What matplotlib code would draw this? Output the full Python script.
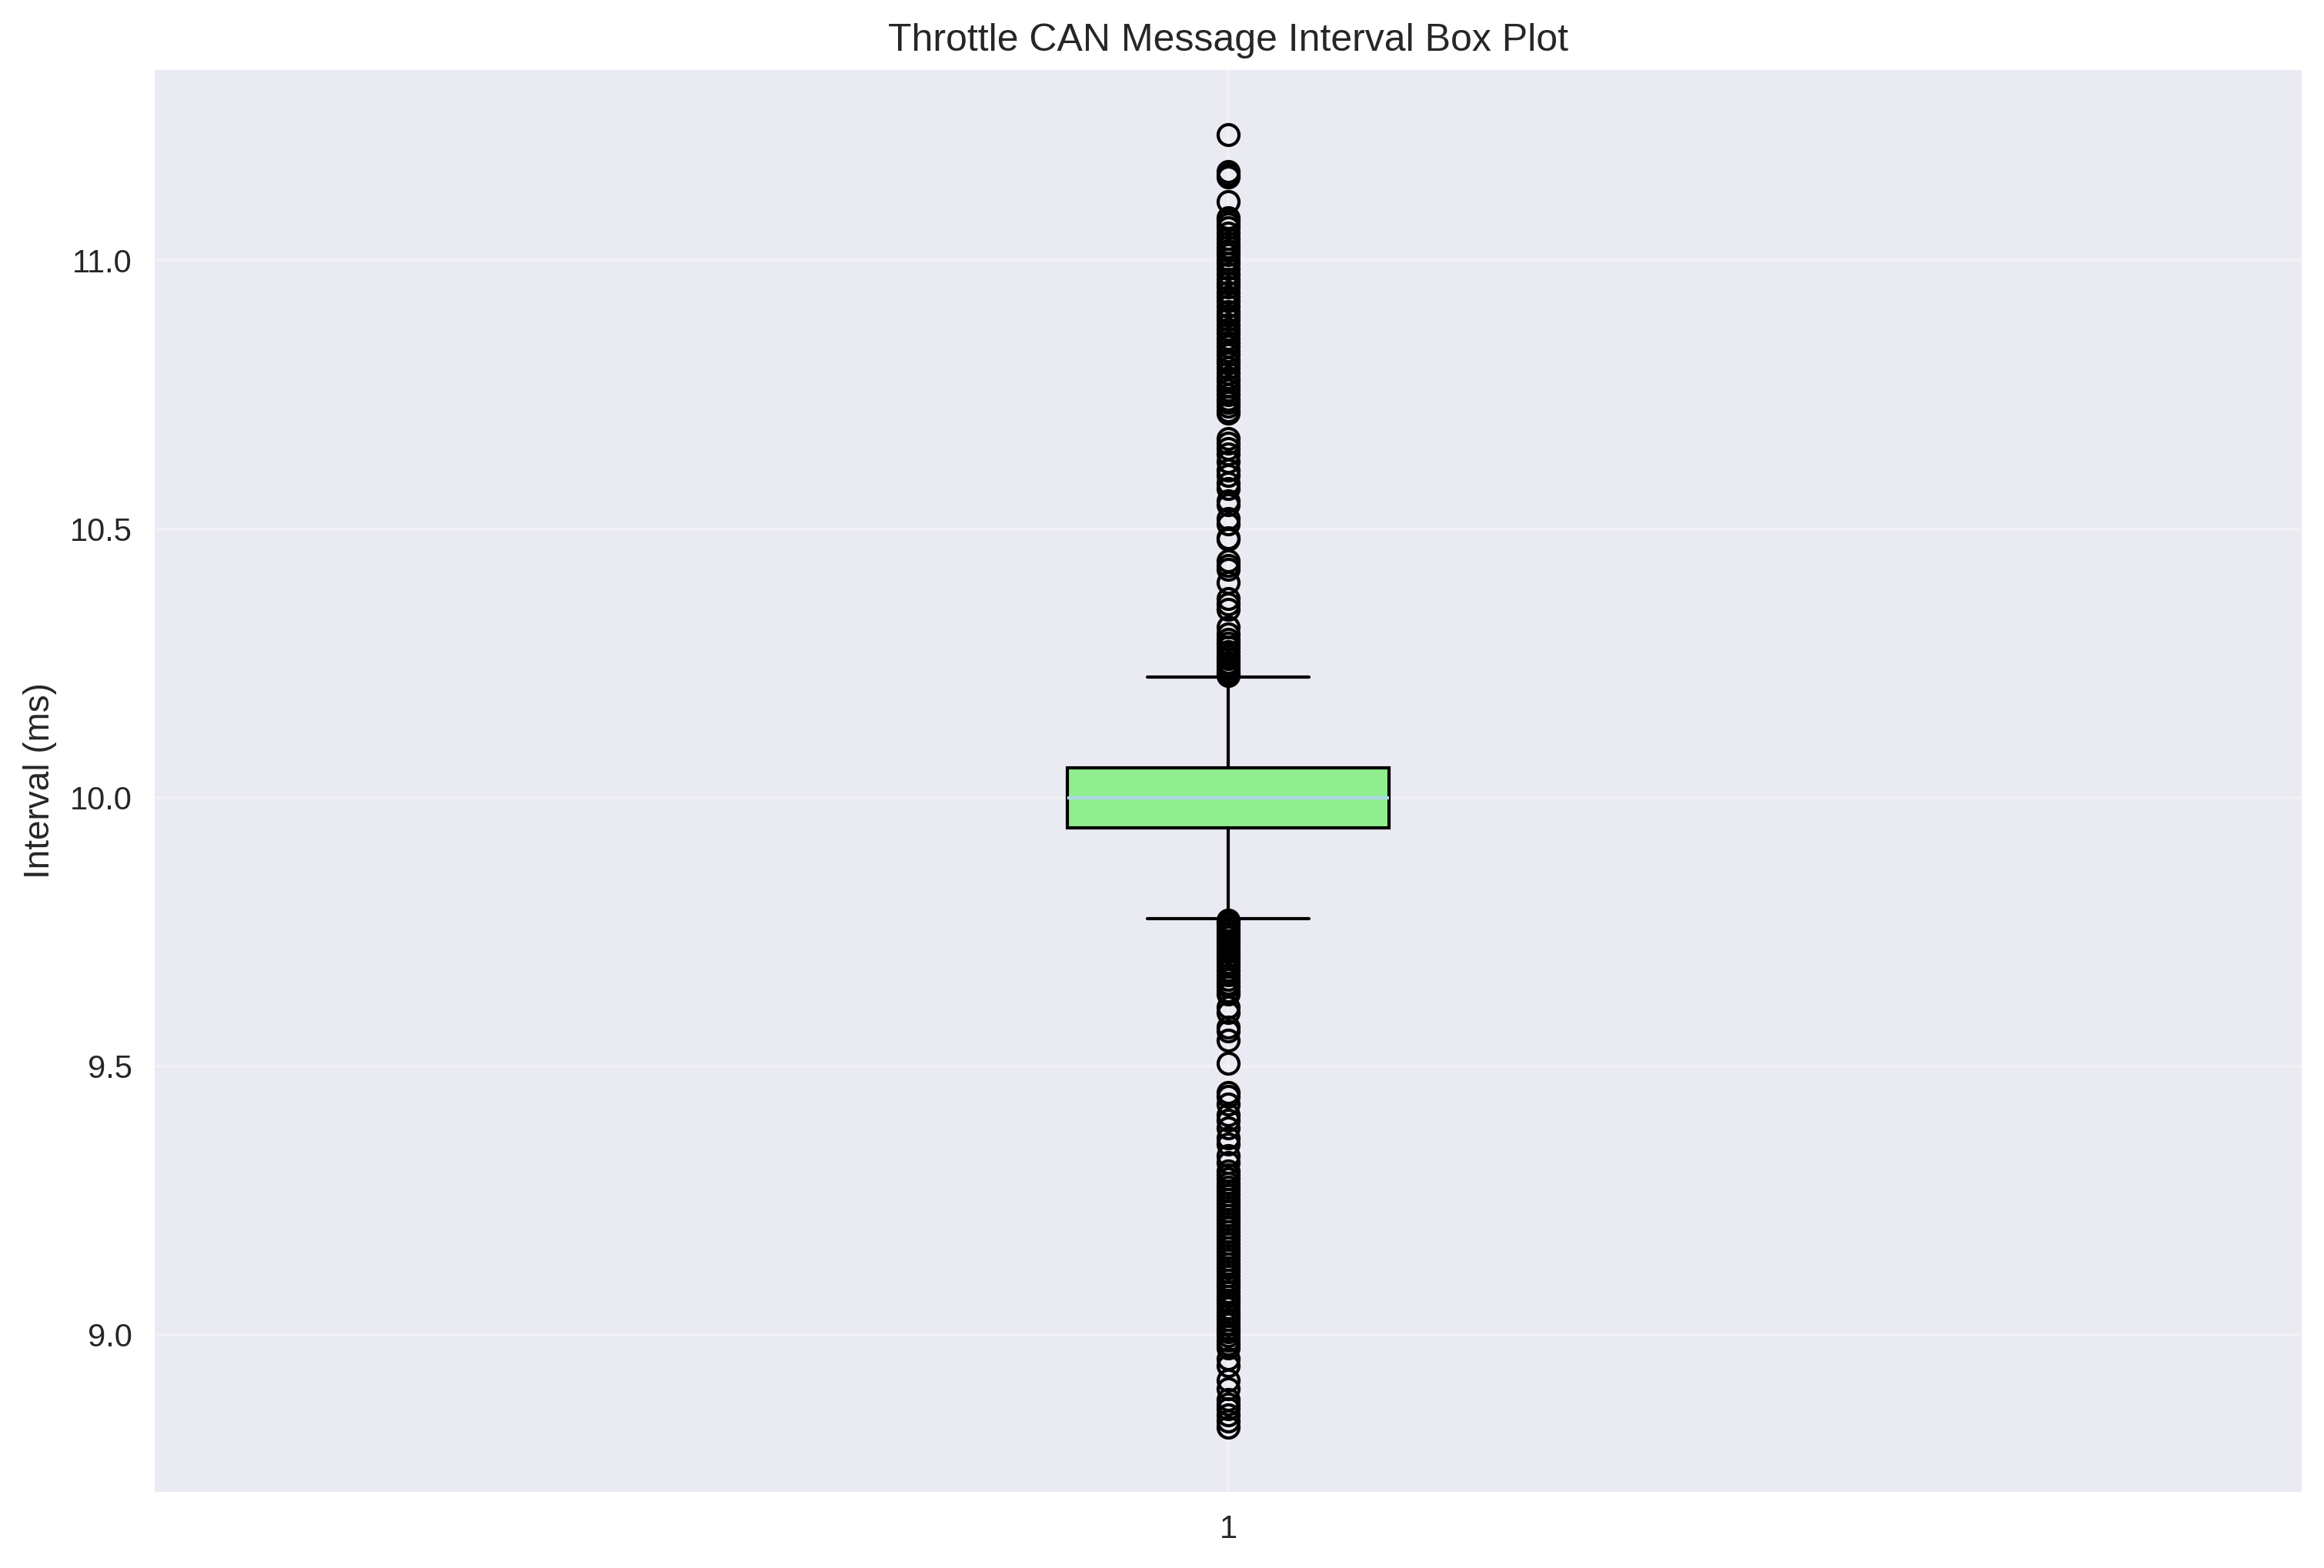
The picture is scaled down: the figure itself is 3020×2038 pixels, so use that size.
import matplotlib
matplotlib.use("Agg")
import matplotlib.pyplot as plt

plt.style.use("seaborn-v0_8")
plt.rcParams["font.family"] = ["Liberation Sans", "DejaVu Sans"]

# ---- data ----
category_labels = ["1"]
median = 10.000
q1 = 9.944
q3 = 10.056
whisker_low = 9.774
whisker_high = 10.225

outliers_high = [
    11.234, 11.165, 11.160, 11.155, 11.110, 11.080, 11.075, 11.068, 11.060,
    11.050, 11.040, 11.032, 11.025, 11.018, 11.010, 11.002, 10.995, 10.985,
    10.975, 10.965, 10.958, 10.950, 10.940, 10.932, 10.925, 10.915, 10.905,
    10.898, 10.890, 10.880, 10.872, 10.865, 10.855, 10.848, 10.840, 10.832,
    10.825, 10.815, 10.808, 10.800, 10.790, 10.782, 10.775, 10.765, 10.758,
    10.750, 10.742, 10.735, 10.728, 10.720, 10.715,
    10.668, 10.660, 10.650, 10.640, 10.625, 10.610, 10.600, 10.585, 10.575,
    10.552, 10.545, 10.520, 10.510, 10.484, 10.480, 10.440, 10.432, 10.425,
    10.400, 10.370, 10.360, 10.350, 10.318, 10.305, 10.295, 10.288, 10.280,
    10.272, 10.265, 10.258, 10.252, 10.246, 10.240, 10.235, 10.230, 10.227,
]
outliers_low = [
    9.772, 9.768, 9.763, 9.758, 9.752, 9.746, 9.740, 9.733, 9.727, 9.720,
    9.713, 9.706, 9.700, 9.693, 9.686, 9.678, 9.670, 9.662, 9.655, 9.648,
    9.640, 9.635, 9.610, 9.600, 9.573, 9.565, 9.549, 9.506, 9.451, 9.444,
    9.430, 9.410, 9.400, 9.385, 9.367, 9.355, 9.334, 9.320,
    9.305, 9.298, 9.290, 9.282, 9.275, 9.268, 9.260, 9.252, 9.245, 9.238,
    9.230, 9.222, 9.215, 9.208, 9.200, 9.192, 9.185, 9.178, 9.170, 9.162,
    9.155, 9.148, 9.140, 9.132, 9.125, 9.118, 9.110, 9.102, 9.095, 9.088,
    9.080, 9.072, 9.065, 9.058, 9.050, 9.042, 9.035, 9.028, 9.020, 9.012,
    9.005, 8.998, 8.990, 8.982, 8.976,
    8.955, 8.943, 8.915, 8.900, 8.880, 8.871, 8.862, 8.851, 8.840, 8.828,
]

stats = [{
    "label": category_labels[0],
    "med": median,
    "q1": q1,
    "q3": q3,
    "whislo": whisker_low,
    "whishi": whisker_high,
    "fliers": outliers_high + outliers_low,
}]

fig = plt.figure(figsize=(3020 / 300, 2038 / 300), dpi=300)
ax = fig.add_axes([0.06656, 0.04858, 0.99040 - 0.06656, 0.95535 - 0.04858])

ax.bxp(
    stats,
    positions=[1],
    widths=0.15,
    patch_artist=True,
    boxprops=dict(facecolor="lightgreen", edgecolor="black", linewidth=1.0),
    medianprops=dict(color="lightblue", linewidth=1.0),
    whiskerprops=dict(color="black", linewidth=1.0),
    capprops=dict(color="black", linewidth=1.0),
    flierprops=dict(marker="o", markerfacecolor="none", markeredgecolor="black",
                    markersize=6.5, markeredgewidth=1.0, linestyle="none"),
)

ax.set_xlim(0.5, 1.5)
ax.set_title("Throttle CAN Message Interval Box Plot", fontsize=12, color="#262626")
ax.set_ylabel("Interval (ms)", fontsize=11, color="#262626")
ax.tick_params(axis="both", labelsize=10, colors="#262626")
ax.grid(True, alpha=0.3)

fig.savefig("out.png", dpi=300)
